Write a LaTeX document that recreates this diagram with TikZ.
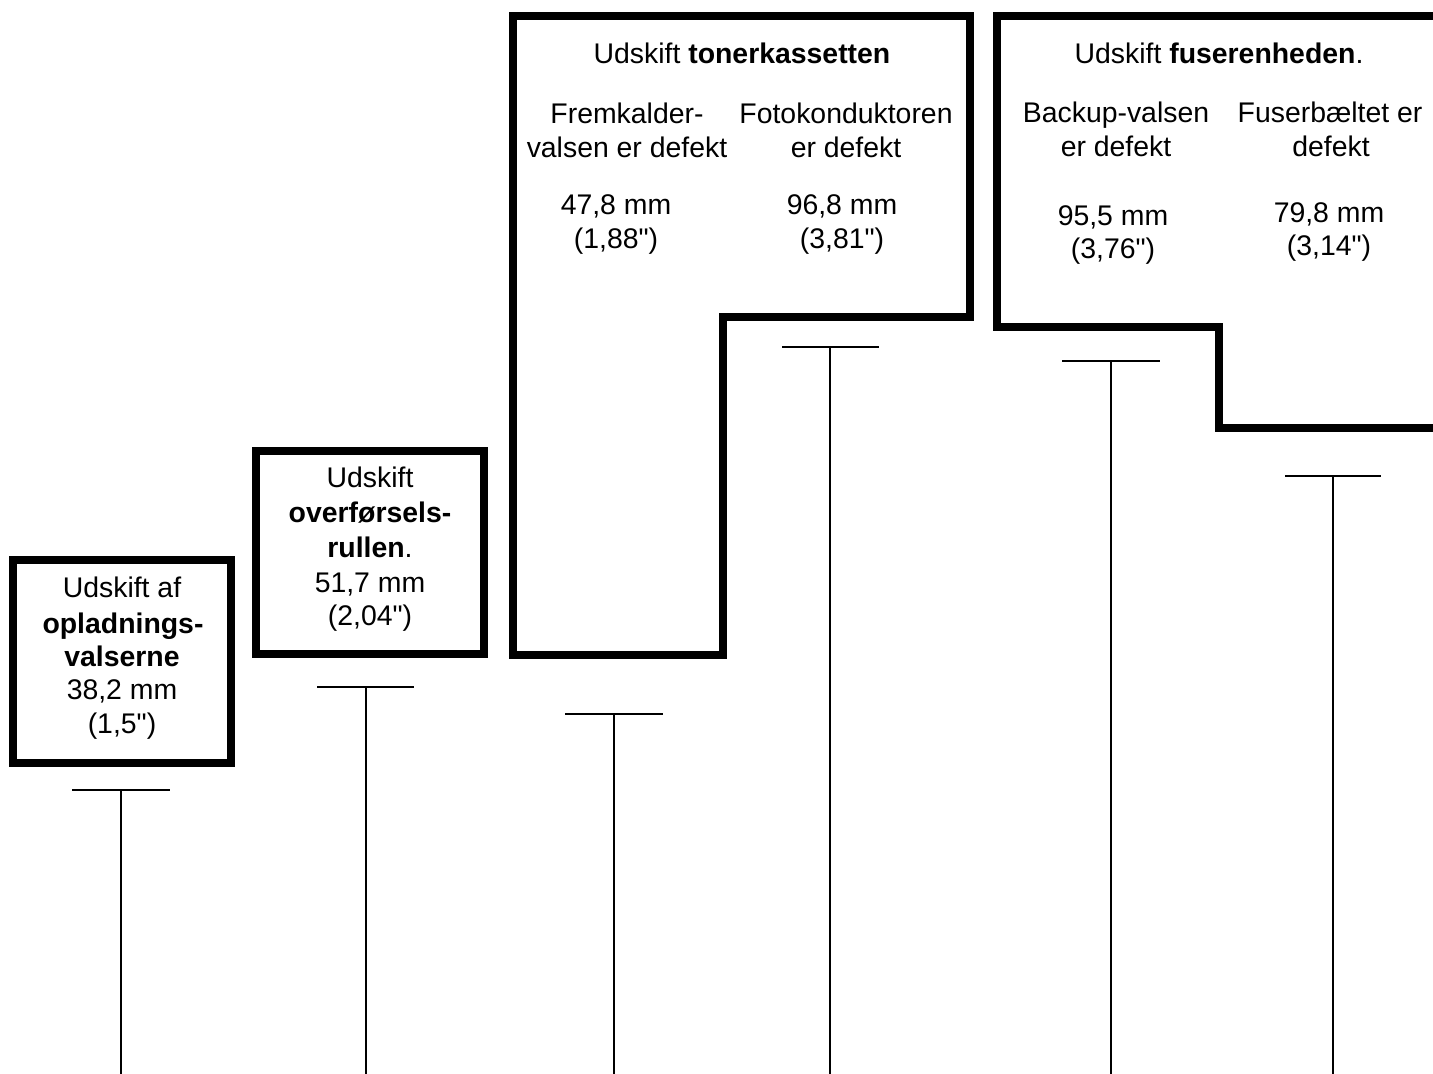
\documentclass[tikz,border=0pt]{standalone}
\usepackage{fontspec}
\setmainfont{Liberation Sans}[Ligatures=TeXOff]
\begin{document}
\begin{tikzpicture}[x=1pt,y=-1pt,
  thickbox/.style={line width=8.5pt, line join=miter},
  tickline/.style={line width=1.8pt},
  lbl/.style={anchor=base, inner sep=0pt, font=\fontsize{28.4}{34}\selectfont}]
\useasboundingbox (0,0) rectangle (1433,1074);
\clip (0,0) rectangle (1433,1074);
% boxes
\draw[thickbox] (13,560) rectangle (231,763);
\draw[thickbox] (256,451) rectangle (484,654);
\draw[thickbox] (513,16) -- (970,16) -- (970,317) -- (723,317) -- (723,655) -- (513,655) -- cycle;
\draw[thickbox] (1440,16) -- (997,16) -- (997,327) -- (1219,327) -- (1219,428) -- (1440,428);
% box 1 text
\node[lbl] (a1) at (122,597) {Udskift af};
\node[lbl] (a2) at (123,633) {\textbf{opladnings-}};
\node[lbl] (a3) at (122,666) {\textbf{valserne}};
\node[lbl] (a4) at (122,699) {38,2 mm};
\node[lbl] (a5) at (122,733) {(1,5")};
% box 2 text
\node[lbl] (b1) at (370,487) {Udskift};
\node[lbl] (b2) at (370,522) {\textbf{overførsels-}};
\node[lbl] (b3) at (370,557) {\textbf{rullen}.};
\node[lbl] (b4) at (370,592) {51,7 mm};
\node[lbl] (b5) at (370,625) {(2,04")};
% box 3 text
\node[lbl] (c0) at (742,63) {Udskift \textbf{tonerkassetten}};
\node[lbl] (c1) at (627,123) {Fremkalder-};
\node[lbl] (c2) at (627,157) {valsen er defekt};
\node[lbl] (c3) at (616,214) {47,8 mm};
\node[lbl] (c4) at (616,248) {(1,88")};
\node[lbl] (d1) at (846,123) {Fotokonduktoren};
\node[lbl] (d2) at (846,157) {er defekt};
\node[lbl] (d3) at (842,214) {96,8 mm};
\node[lbl] (d4) at (842,248) {(3,81")};
% box 4 text
\node[lbl] (e0) at (1219,63) {Udskift \textbf{fuserenheden}.};
\node[lbl] (e1) at (1116,122) {Backup-valsen};
\node[lbl] (e2) at (1116,156) {er defekt};
\node[lbl] (e3) at (1113,225) {95,5 mm};
\node[lbl] (e4) at (1113,258) {(3,76")};
\node[lbl] (f1) at (1330,122) {Fuserbæltet er};
\node[lbl] (f2) at (1331,156) {defekt};
\node[lbl] (f3) at (1329,222) {79,8 mm};
\node[lbl] (f4) at (1329,255) {(3,14")};
% T markers
\foreach \i/\xl/\xr/\xm/\yy in {1/72/170/121/790, 2/317/414/366/687, 3/565/663/614/714, 4/782/879/830/347, 5/1062/1160/1111/361, 6/1285/1381/1333/476}{
  \coordinate (t\i l) at (\xl,\yy);
  \coordinate (t\i r) at (\xr,\yy);
  \coordinate (t\i m) at (\xm,\yy);
  \coordinate (t\i b) at (\xm,1074);
  \draw[tickline] (t\i l) -- (t\i r);
  \draw[tickline] (t\i m) -- (t\i b);
}
\end{tikzpicture}
\end{document}
